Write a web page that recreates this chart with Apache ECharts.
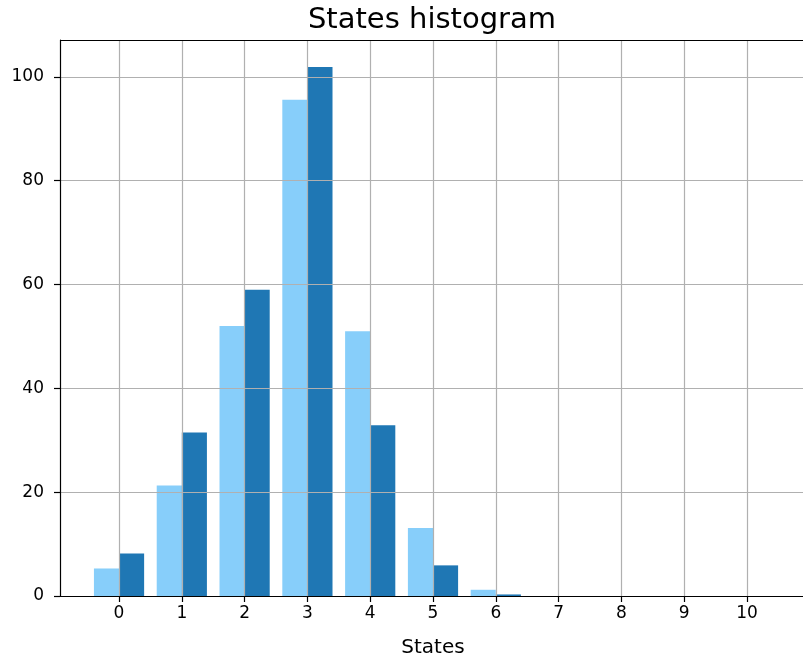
<!DOCTYPE html>
<html>
<head>
<meta charset="utf-8">
<script src="https://cdn.jsdelivr.net/npm/echarts@6/dist/echarts.min.js"></script>
<style>
  html, body { margin: 0; padding: 0; background: #fff; }
  #main { width: 803px; height: 662px; }
</style>
</head>
<body>
<div id="main"></div>
<script>
// states 0..10
const states = [0, 1, 2, 3, 4, 5, 6, 7, 8, 9, 10];
const lightCounts = [5.3, 21.3, 52, 95.6, 51, 13.1, 1.2, 0, 0, 0, 0];
const darkCounts = [8.2, 31.5, 59, 101.9, 32.9, 5.9, 0.3, 0, 0, 0, 0];
const yTicks = [0, 20, 40, 60, 80, 100];

const font = "DejaVu Sans";
const gridColor = "#b0b0b0";

let myChart = echarts.init(document.getElementById("main"));
let option = {
  animation: false,
  title: {
    text: "States histogram",
    left: 427,
    textAlign: "center",
    top: 1,
    textStyle: { fontFamily: font, fontSize: 29, fontWeight: "normal", color: "#000" }
  },
  grid: { left: 60, right: -3, top: 40, bottom: 66, outerBoundsMode: "none", containLabel: false },
  xAxis: {
    type: "value",
    min: -0.94,
    max: 10.94,
    z: 5,
    name: "States",
    nameLocation: "middle",
    nameGap: 42,
    nameTextStyle: { fontFamily: font, fontSize: 20, color: "#000" },
    axisLine: { show: true, onZero: false, lineStyle: { color: "#000", width: 1.2 } },
    axisTick: { show: true, length: 6, lineStyle: { color: "#000", width: 1.2 }, customValues: states },
    axisLabel: { fontFamily: font, fontSize: 17, color: "#000", margin: 9, customValues: states },
    splitLine: { show: true, lineStyle: { color: gridColor, width: 1.2 } }
  },
  yAxis: {
    type: "value",
    min: 0,
    max: 107.1,
    z: 5,
    axisLine: { show: true, onZero: false, lineStyle: { color: "#000", width: 1.2 } },
    axisTick: { show: true, length: 6, lineStyle: { color: "#000", width: 1.2 }, customValues: yTicks },
    axisLabel: { fontFamily: font, fontSize: 17, color: "#000", margin: 16, customValues: yTicks },
    splitLine: { show: true, lineStyle: { color: gridColor, width: 1.2 } }
  },
  graphic: [
    // top spine
    { type: "line", shape: { x1: 60, y1: 40.5, x2: 803, y2: 40.5 }, style: { stroke: "#000", lineWidth: 1.2 }, z: 10 }
  ],
  series: [
    {
      type: "bar",
      barWidth: 25.1,
      barGap: "0%",
      itemStyle: { color: "#87cefa" },
      data: states.map((s, i) => [s, lightCounts[i]])
    },
    {
      type: "bar",
      barWidth: 25.1,
      barGap: "0%",
      itemStyle: { color: "#1f77b4" },
      data: states.map((s, i) => [s, darkCounts[i]])
    }
  ]
};
myChart.setOption(option);
</script>
</body>
</html>
